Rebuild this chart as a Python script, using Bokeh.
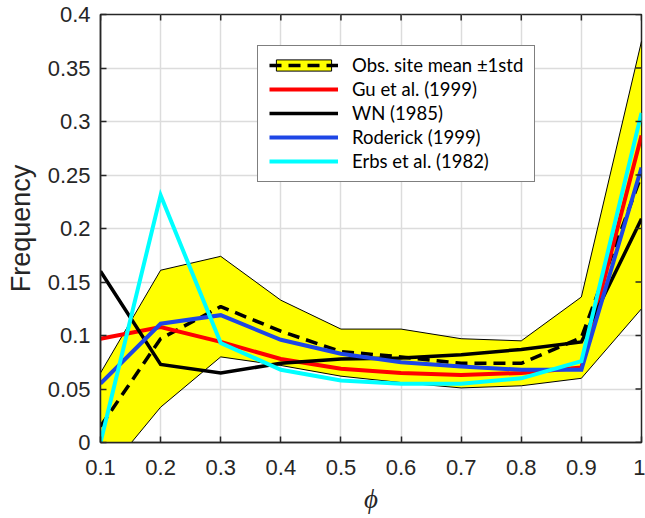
from bokeh.plotting import figure
from bokeh.models import Range1d, FixedTicker, Legend, LegendItem
from bokeh.embed import file_html
from bokeh.resources import INLINE
import math

# ---- data ----
phi = [0.1, 0.2, 0.3, 0.4, 0.5, 0.6, 0.7, 0.8, 0.9, 1.0]
obs_mean = [0.015, 0.097, 0.127, 0.104, 0.085, 0.080, 0.074, 0.074, 0.098, 0.250]
obs_upper = [0.065, 0.161, 0.174, 0.133, 0.106, 0.106, 0.097, 0.095, 0.136, 0.375]
obs_lower = [-0.035, 0.033, 0.080, 0.072, 0.062, 0.056, 0.051, 0.053, 0.060, 0.125]
gu_1999 = [0.097, 0.108, 0.094, 0.078, 0.069, 0.065, 0.063, 0.065, 0.070, 0.287]
wn_1985 = [0.160, 0.073, 0.065, 0.074, 0.078, 0.079, 0.082, 0.087, 0.094, 0.209]
roderick_1999 = [0.055, 0.111, 0.119, 0.096, 0.083, 0.075, 0.071, 0.068, 0.068, 0.257]
erbs_1982 = [0.000, 0.231, 0.093, 0.068, 0.058, 0.055, 0.055, 0.060, 0.076, 0.308]

x_ticks = [0.1, 0.2, 0.3, 0.4, 0.5, 0.6, 0.7, 0.8, 0.9, 1.0]
x_labels = ["0.1", "0.2", "0.3", "0.4", "0.5", "0.6", "0.7", "0.8", "0.9", "1"]
y_ticks = [0, 0.05, 0.1, 0.15, 0.2, 0.25, 0.3, 0.35, 0.4]
y_labels = ["0", "0.05", "0.1", "0.15", "0.2", "0.25", "0.3", "0.35", "0.4"]

series_labels = ["Obs. site mean ±1std", "Gu et al. (1999)", "WN (1985)",
                 "Roderick (1999)", "Erbs et al. (1982)"]

X_MIN, X_MAX = 0.1, 1.0
Y_MIN, Y_MAX = 0.0, 0.4

AX = "#262626"
GRID = "#DCDCDC"
TICK_FONT = "Liberation Sans"

p = figure(width=645, height=518, x_range=Range1d(X_MIN, X_MAX), y_range=Range1d(Y_MIN, Y_MAX),
           output_backend="svg", toolbar_location=None,
           min_border_left=100, min_border_right=4, min_border_top=14, min_border_bottom=76)
p.background_fill_color = "white"
p.border_fill_color = "white"
p.outline_line_color = AX
p.outline_line_width = 1.5

# band
band_x = phi + phi[::-1]
band_y = obs_upper + obs_lower[::-1]
band = p.patch(band_x, band_y, fill_color="#FFFF00", line_color="black", line_width=1)
mean_r = p.line(phi, obs_mean, line_color="black", line_width=3.5, line_dash="12 7")
gu_r = p.line(phi, gu_1999, line_color="#FF0000", line_width=4, line_join="miter")
wn_r = p.line(phi, wn_1985, line_color="black", line_width=3.5, line_join="miter")
rod_r = p.line(phi, roderick_1999, line_color="#1E46E6", line_width=4, line_join="miter")
erbs_r = p.line(phi, erbs_1982, line_color="#00FFFF", line_width=4, line_join="miter")

# mirrored inward ticks on the right and top edges (box style)
p.ray(x=[X_MAX] * len(y_ticks), y=y_ticks, length=6, length_units="screen",
      angle=math.pi, line_color=AX, line_width=1.5)
p.ray(x=x_ticks, y=[Y_MAX] * len(x_ticks), length=6, length_units="screen",
      angle=-math.pi / 2, line_color=AX, line_width=1.5)

# axes
def style_axis(ax):
    ax.axis_line_color = AX
    ax.axis_line_width = 1.5
    ax.major_tick_line_color = AX
    ax.major_tick_line_width = 1.5
    ax.major_tick_in = 6
    ax.major_tick_out = 0
    ax.minor_tick_line_color = None
    ax.major_label_text_font = TICK_FONT
    ax.major_label_text_color = "#262626"
    ax.major_label_text_font_size = "22px"

xt = FixedTicker(ticks=x_ticks)
yt = FixedTicker(ticks=y_ticks)

xa = p.xaxis[0]
xa.ticker = xt
xa.major_label_overrides = dict(zip(x_ticks, x_labels))
style_axis(xa)
xa.major_label_standoff = 17
xa.axis_label = "ϕ"
xa.axis_label_text_font = "Liberation Serif"
xa.axis_label_text_font_style = "italic"
xa.axis_label_text_font_size = "27px"
xa.axis_label_text_color = "#262626"
xa.axis_label_standoff = 6

ya = p.yaxis[0]
ya.ticker = yt
ya.major_label_overrides = dict(zip(y_ticks, y_labels))
style_axis(ya)
ya.major_label_standoff = 10
ya.axis_label = "Frequency"
ya.axis_label_text_font = TICK_FONT
ya.axis_label_text_font_style = "normal"
ya.axis_label_text_font_size = "27px"
ya.axis_label_text_color = "#262626"
ya.axis_label_standoff = 9

p.xgrid.ticker = xt
p.ygrid.ticker = yt
for g in (p.xgrid[0], p.ygrid[0]):
    g.grid_line_color = GRID
    g.grid_line_width = 1.5

legend = Legend(items=[
    LegendItem(label=series_labels[0], renderers=[band, mean_r]),
    LegendItem(label=series_labels[1], renderers=[gu_r]),
    LegendItem(label=series_labels[2], renderers=[wn_r]),
    LegendItem(label=series_labels[3], renderers=[rod_r]),
    LegendItem(label=series_labels[4], renderers=[erbs_r]),
], location=(157, 260))
legend.margin = 0
legend.padding = dict(left=11, right=11, top=8, bottom=9)
legend.spacing = 2
legend.glyph_width = 69
legend.glyph_height = 14
legend.label_height = 20
legend.label_standoff = 14
legend.label_text_font = "Lato"
legend.label_text_font_size = "18.5px"
legend.label_text_color = "black"
legend.border_line_color = "black"
legend.border_line_width = 1.5
legend.background_fill_color = "white"
legend.background_fill_alpha = 1.0
p.add_layout(legend)

open("out.html", "w").write(file_html(p, INLINE))
